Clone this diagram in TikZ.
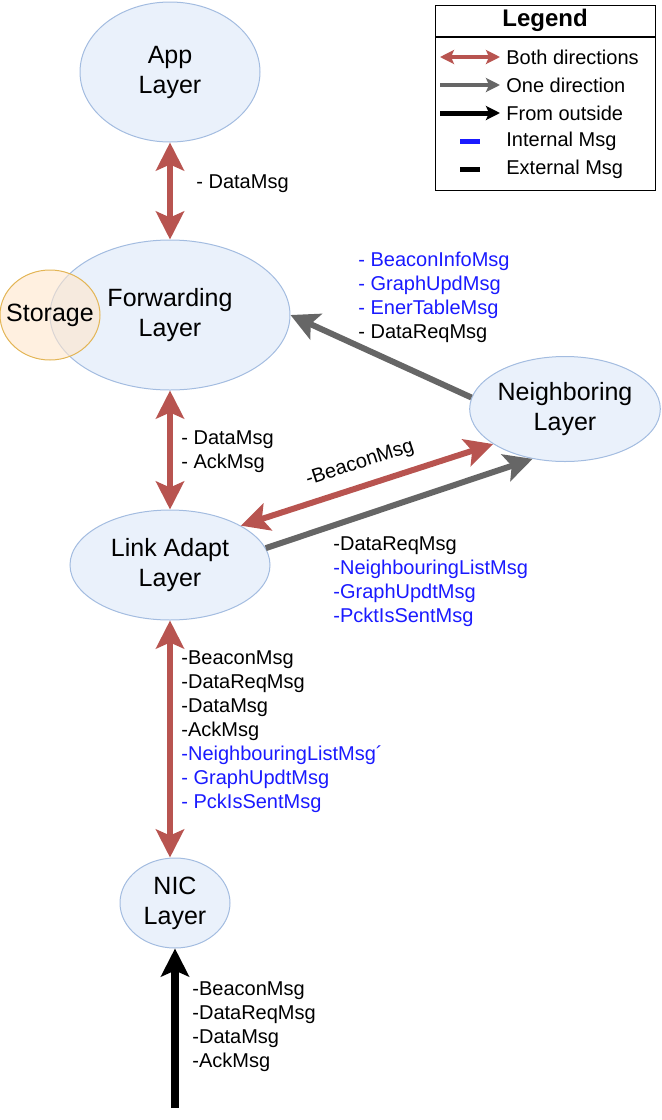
\documentclass[tikz,border=0pt]{standalone}
\usepackage{fontspec}
\setmainfont{Liberation Sans}
\usetikzlibrary{positioning}
\usetikzlibrary{calc}
\usetikzlibrary{shapes.geometric}
\usetikzlibrary{arrows.meta}

\definecolor{layerfill}{HTML}{EAF1FB}
\definecolor{layerline}{HTML}{A3BCE0}
\definecolor{storefill}{HTML}{FFE6CC}
\definecolor{storeline}{HTML}{E3B555}
\definecolor{bothred}{HTML}{B85450}
\definecolor{onegray}{HTML}{666666}
\definecolor{msgblue}{HTML}{1A1AFF}

\newcommand{\layerfont}{\fontsize{12.5}{15}\selectfont}
\newcommand{\msgfont}{\fontsize{10}{12}\selectfont}
\newcommand{\intmsg}[1]{\textcolor{msgblue}{#1}}

\tikzset{
    % Large heads, like the ones of the message flows
    >={Stealth[length=14pt, width=14pt, inset=3pt]},
%
    % A protocol layer of the stack
    layer/.style={
        ellipse, draw=layerline, line width=0.5pt, fill=layerfill,
        inner sep=0, align=center, font=\layerfont},
%
    % The storage attached to the forwarding layer
    % (negative x sep so the text may reach the border)
    storage/.style={
        ellipse, draw=storeline, line width=0.5pt, fill=storefill,
        fill opacity=0.6, text opacity=1, inner xsep=-4.5pt, inner ysep=0,
        minimum width=50pt, minimum height=45pt, font=\layerfont},
%
    % Flows of messages between the layers
    both flow/.style={<->, line width=3pt, draw=bothred},
    one flow/.style={->, line width=3pt, draw=onegray},
    outside flow/.style={->, line width=4pt, draw=black},
%
    % A list of messages beside a flow
    msg list/.style={align=left, inner sep=0, anchor=west, font=\msgfont},
%
    % Small heads used in the legend
    legend tip/.style={>={Stealth[length=7pt, width=7pt, inset=1.5pt]}}}

\begin{document}
\begin{tikzpicture}[x=0.5pt, y=-0.5pt]

\useasboundingbox (0,0) rectangle (661,1120);

% The layers, top to bottom
\node[layer, minimum width=90pt, minimum height=70pt] (app) at (170,72)
    {App\\Layer};
\node[layer, minimum width=120pt, minimum height=75pt] (fwd) at (170,315)
    {Forwarding\\Layer};
\node[storage] (storage) at (50,315) {Storage};
\node[layer, minimum width=95pt, minimum height=52.5pt] (neigh) at (565,409)
    {Neighboring\\Layer};
\node[layer, minimum width=100pt, minimum height=55pt] (link) at (170,565)
    {Link Adapt\\Layer};
\node[layer, minimum width=55pt, minimum height=45pt] (nic) at (175,903)
    {NIC\\Layer};
\coordinate (outside) at (175,1108);

% Flows between the layers
\draw[both flow] (app) -- (fwd);
\draw[both flow] (fwd) -- (link);
\draw[both flow] (link.south) -- (link.south |- nic.north);
\draw[outside flow] (outside) -- (nic.south);
\draw[one flow] (neigh.173) -- (fwd.east);
\draw[one flow] (link.10) -- (neigh.237);
\draw[both flow] (link.29) -- (neigh.206)
    node[midway, above=2pt, sloped, font=\msgfont, text=black] (beacon msg)
        {-BeaconMsg};

% Messages carried by each flow
\node[msg list] (app msgs) at (196,184) {- DataMsg};
\node[msg list] (fwd msgs) at (181,452) {- DataMsg\\- AckMsg};
\node[msg list] (neigh msgs) at (358,297)
    {\intmsg{- BeaconInfoMsg}\\\intmsg{- GraphUpdMsg}\\
     \intmsg{- EnerTableMsg}\\- DataReqMsg};
\node[msg list] (link neigh msgs) at (333,582)
    {-DataReqMsg\\\intmsg{-NeighbouringListMsg}\\
     \intmsg{-GraphUpdtMsg}\\\intmsg{-PcktIsSentMsg}};
\node[msg list] (link nic msgs) at (181,732)
    {-BeaconMsg\\-DataReqMsg\\-DataMsg\\-AckMsg\\
     \intmsg{-NeighbouringListMsg´}\\\intmsg{- GraphUpdtMsg}\\
     \intmsg{- PckIsSentMsg}};
\node[msg list] (nic msgs) at (192,1027)
    {-BeaconMsg\\-DataReqMsg\\-DataMsg\\-AckMsg};

% Legend
\node[draw, line width=0.5pt, minimum width=110pt, minimum height=15.5pt,
    inner sep=0, font=\fontsize{12}{14}\selectfont\bfseries]
    (legend title) at (545,20.5) {Legend};
\node[draw, line width=0.5pt, minimum width=110pt, minimum height=76.5pt,
    inner sep=0, below=0pt of legend title] (legend body) {};

\begin{scope}[legend tip]
\coordinate (both start) at (440,57);  \coordinate (both end) at (500,57);
\coordinate (one start) at (440,85);   \coordinate (one end) at (500,85);
\coordinate (out start) at (440,113);  \coordinate (out end) at (500,113);
\draw[<->, line width=2pt, draw=bothred] (both start) -- (both end);
\draw[->, line width=2pt, draw=onegray] (one start) -- (one end);
\draw[->, line width=2.5pt] (out start) -- (out end);
\end{scope}
\draw[line width=2.5pt, draw=msgblue] (460,141) -- (480,141);
\draw[line width=2.5pt] (460,169) -- (480,169);

\node[msg list] (legend both) at (506,57) {Both directions};
\node[msg list] (legend one) at (506,85) {One direction};
\node[msg list] (legend outside) at (506,113) {From outside};
\node[msg list] (legend internal) at (506,141) {Internal Msg};
\node[msg list] (legend external) at (506,169) {External Msg};

\end{tikzpicture}
\end{document}
